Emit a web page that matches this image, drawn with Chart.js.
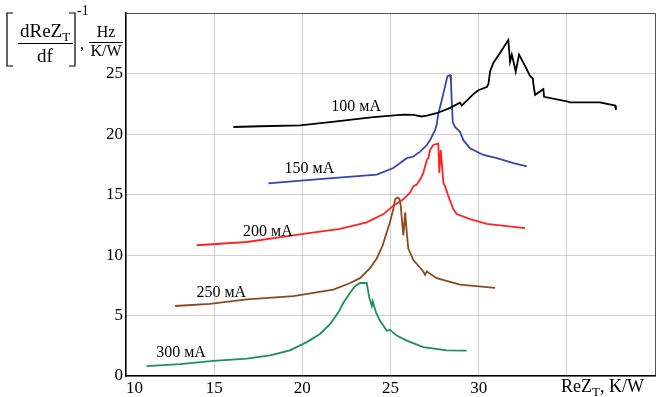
<!DOCTYPE html>
<html>
<head>
<meta charset="utf-8">
<script src="https://cdn.jsdelivr.net/npm/chart.js@4/dist/chart.umd.min.js"></script>
<style>
html,body{margin:0;padding:0;background:#fff;}
#wrap{width:663px;height:397px;position:relative;}
</style>
</head>
<body>
<div id="wrap"><canvas id="c" width="663" height="397"></canvas></div>
<script>
// ---- data (x: ReZ_T, K/W ; y: [dReZ_T/df]^-1, Hz/(K/W)) ----
const series100 = [[16.09,20.59],[17.6,20.65],[19.87,20.73],[21.57,21.0],[24.03,21.41],[25.73,21.62],[26.3,21.6],[26.77,21.46],[27.06,21.54],[27.62,21.73],[28.38,22.17],[28.94,22.6],[29.04,22.36],[29.7,23.31],[29.98,23.63],[30.46,23.9],[30.55,24.12],[30.65,25.21],[30.83,25.89],[31.21,26.71],[31.68,27.79],[31.78,25.97],[31.88,26.57],[31.97,26.02],[32.1,25.16],[32.29,26.57],[32.54,25.89],[32.92,24.8],[33.07,24.61],[33.1,24.18],[33.2,23.25],[33.67,23.72],[33.71,23.09],[35.0,22.71],[35.18,22.63],[36.88,22.63],[37.74,22.36],[37.78,22.0]];
const series150 = [[18.07,15.92],[20.62,16.24],[24.22,16.65],[25.16,17.2],[25.92,18.01],[26.3,18.15],[26.68,18.55],[27.06,19.1],[27.24,19.5],[27.53,20.32],[27.63,20.86],[27.71,21.68],[27.9,22.76],[28.1,23.99],[28.23,24.8],[28.38,24.88],[28.43,24.4],[28.47,22.76],[28.53,21.0],[28.66,20.6],[28.94,20.19],[29.13,19.5],[29.51,18.83],[30.27,18.28],[31.03,18.01],[31.97,17.6],[32.73,17.33]];
const series200 = [[14.01,10.81],[16.85,11.08],[20.06,11.76],[22.14,12.17],[23.65,12.71],[24.6,13.39],[25.16,14.07],[25.73,14.61],[26.11,15.16],[26.3,15.7],[26.49,15.84],[26.68,16.24],[26.86,16.79],[27.06,17.87],[27.15,18.01],[27.24,18.69],[27.43,19.1],[27.71,19.23],[27.77,16.79],[27.85,18.69],[28.0,15.97],[28.09,15.7],[28.28,14.89],[28.56,13.8],[28.75,13.39],[29.51,12.98],[30.46,12.58],[31.59,12.39],[32.63,12.22]];
const series250 = [[12.78,5.79],[14.76,5.97],[16.85,6.33],[19.49,6.6],[21.76,7.15],[22.71,7.69],[23.27,8.09],[23.84,8.91],[24.22,9.72],[24.56,10.81],[24.79,11.9],[24.97,12.71],[25.16,13.8],[25.26,14.61],[25.39,14.75],[25.5,14.67],[25.58,14.08],[25.66,12.71],[25.73,11.63],[25.83,13.53],[25.92,11.9],[26.01,10.54],[26.3,9.59],[26.86,8.64],[26.96,8.37],[27.06,8.64],[27.62,8.09],[28.94,7.55],[30.93,7.28]];
const series300 = [[11.17,0.81],[13.06,0.98],[14.95,1.25],[16.85,1.44],[18.17,1.71],[19.3,2.12],[20.25,2.8],[21.0,3.48],[21.57,4.29],[22.04,5.24],[22.33,6.06],[22.7,6.87],[22.99,7.42],[23.27,7.69],[23.65,7.69],[23.8,6.46],[23.94,5.79],[23.99,6.19],[24.18,5.24],[24.41,4.56],[24.79,3.75],[24.97,3.81],[25.35,3.34],[25.92,2.93],[26.86,2.39],[28.19,2.12],[29.32,2.09]];
const seriesNames = ['100 мА','150 мА','200 мА','250 мА','300 мА'];
const labelAnchors = [[23.05,22.25],[20.4,17.15],[18.05,11.95],[15.4,6.9],[13.12,1.9]];
const xTickLabels = [10,15,20,25,30];
const yTickLabels = [0,5,10,15,20,25];
const xAxisTitle = ['ReZ','T',', K/W'];

const SERIF = '"Liberation Serif","Times New Roman",serif';
const colors = ['#000000','#3346b0','#ff2222','#8a4a1c','#1b9157'];
const allSeries = [series100,series150,series200,series250,series300];

const datasets = allSeries.map((s,i)=>({
  label: seriesNames[i],
  data: s.map(p=>({x:p[0],y:p[1]})),
  showLine: true,
  borderColor: colors[i],
  backgroundColor: colors[i],
  borderWidth: 1.8,
  pointRadius: 0,
  tension: 0,
  fill: false
}));

const decor = {
  id: 'decor',
  afterDraw(chart){
    const ctx = chart.ctx;
    const xs = chart.scales.x, ys = chart.scales.y;
    ctx.save();
    ctx.fillStyle = '#000';
    ctx.font = '16px ' + SERIF;
    ctx.textAlign = 'center';
    ctx.textBaseline = 'middle';
    seriesNames.forEach((n,i)=>{
      ctx.fillText(n, xs.getPixelForValue(labelAnchors[i][0]), ys.getPixelForValue(labelAnchors[i][1]));
    });
    ctx.textAlign = 'left';
    ctx.textBaseline = 'alphabetic';
    let x0 = 561, yb = 392;
    ctx.font = '18px ' + SERIF;
    ctx.fillText(xAxisTitle[0], x0, yb);
    x0 += ctx.measureText(xAxisTitle[0]).width;
    ctx.font = '13px ' + SERIF;
    ctx.fillText(xAxisTitle[1], x0, yb + 4);
    x0 += ctx.measureText(xAxisTitle[1]).width;
    ctx.font = '18px ' + SERIF;
    ctx.fillText(xAxisTitle[2], x0, yb);
    ctx.strokeStyle = '#000';
    ctx.lineWidth = 1.2;
    ctx.font = '19px ' + SERIF;
    ctx.fillText('dReZ', 20, 37);
    const w = ctx.measureText('dReZ').width;
    ctx.font = '13px ' + SERIF;
    ctx.fillText('T', 20 + w, 41);
    ctx.beginPath(); ctx.moveTo(18, 43.5); ctx.lineTo(73, 43.5); ctx.stroke();
    ctx.font = '19px ' + SERIF;
    ctx.textAlign = 'center';
    ctx.fillText('df', 45, 62);
    ctx.beginPath();
    ctx.moveTo(13, 13); ctx.lineTo(7, 13); ctx.lineTo(7, 66); ctx.lineTo(13, 66);
    ctx.moveTo(69, 13); ctx.lineTo(75, 13); ctx.lineTo(75, 66); ctx.lineTo(69, 66);
    ctx.stroke();
    ctx.textAlign = 'left';
    ctx.font = '14px ' + SERIF;
    ctx.fillText('-1', 77, 15);
    ctx.font = '16px ' + SERIF;
    ctx.fillText(',', 80, 49);
    ctx.textAlign = 'center';
    ctx.fillText('Hz', 106, 37);
    ctx.beginPath(); ctx.moveTo(89, 42.5); ctx.lineTo(123, 42.5); ctx.stroke();
    ctx.fillText('K/W', 106, 56);
    ctx.restore();
  }
};

new Chart(document.getElementById('c'), {
  type: 'scatter',
  data: { datasets },
  plugins: [decor],
  options: {
    responsive: false,
    animation: false,
    devicePixelRatio: 1,
    layout: { padding: { left: 0, right: 8, top: 7, bottom: 0 } },
    plugins: { legend: { display: false }, tooltip: { enabled: false } },
    scales: {
      x: {
        type: 'linear', min: 10, max: 40,
        afterFit(s){ s.height = 21; },
        afterBuildTicks(s){ s.ticks = [10,15,20,25,30,35,40].map(v=>({value:v})); },
        ticks: {
          color: '#000', font: { family: SERIF, size: 17 }, padding: 2, maxRotation: 0, align: 'inner',
          callback: v => xTickLabels.includes(v) ? String(v) : ''
        },
        grid: { drawTicks: false, lineWidth: 1, color: c => (c.tick && c.tick.value === 40) ? '#555' : '#d0d0d0' },
        border: { color: '#000', width: 1.5 }
      },
      y: {
        type: 'linear', min: 0, max: 30,
        afterFit(s){ s.width = 126; },
        afterBuildTicks(s){ s.ticks = [0,5,10,15,20,25,30].map(v=>({value:v})); },
        ticks: {
          color: '#000', font: { family: SERIF, size: 17 }, padding: 3,
          callback: v => yTickLabels.includes(v) ? String(v) : ''
        },
        grid: { drawTicks: false, lineWidth: 1, color: c => (c.tick && c.tick.value === 30) ? '#555' : '#d0d0d0' },
        border: { color: '#000', width: 1.5 }
      }
    }
  }
});
</script>
</body>
</html>
